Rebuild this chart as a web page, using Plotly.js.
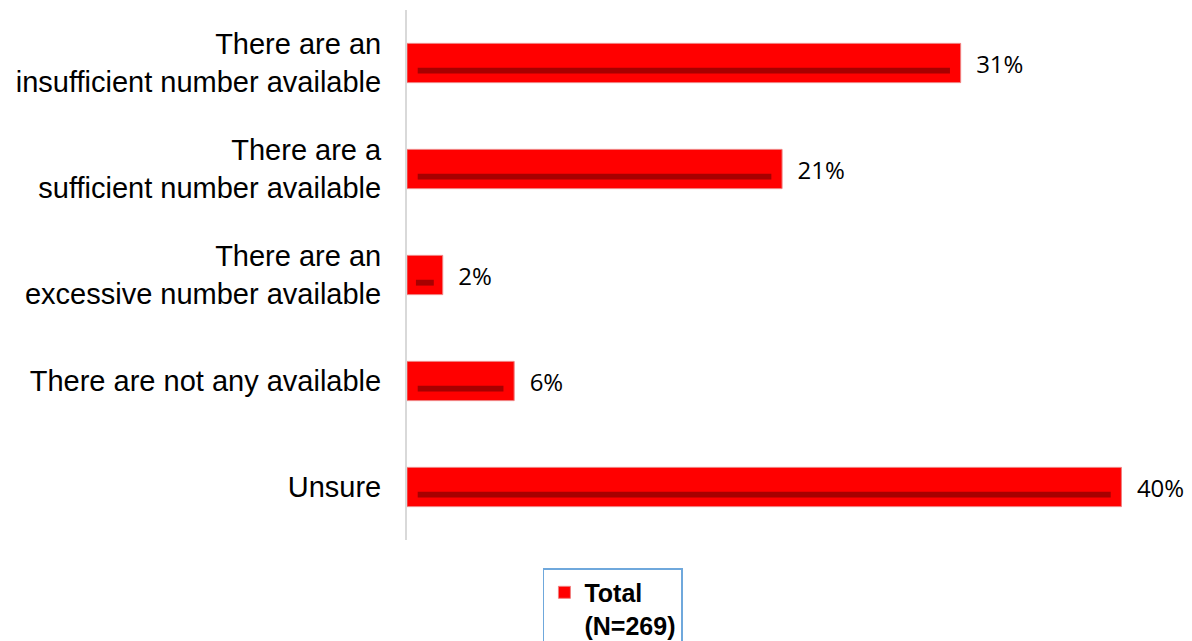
<!DOCTYPE html>
<html>
<head>
<meta charset="utf-8">
<script src="https://cdn.plot.ly/plotly-3.0.1.min.js"></script>
<style>html,body{margin:0;padding:0;background:#fff}#chart{width:1192px;height:641px}</style>
</head>
<body>
<div id="chart"></div>
<script>
const categories = [
  "There are an<br>insufficient number available",
  "There are a<br>sufficient number available",
  "There are an<br>excessive number available",
  "There are not any available",
  "Unsure"
];
const values = [31, 21, 2, 6, 40];
const seriesName = "Total<br>(N=269)";

const inset = 0.6;
const stripeBase = values.map(v => Math.min(inset, v / 4));
const stripeLen = values.map((v, i) => Math.max(v - 2 * stripeBase[i], 0));

const mainBar = {
  type: 'bar',
  orientation: 'h',
  y: categories,
  x: values,
  name: seriesName,
  width: 0.37,
  marker: { color: '#ff0000', line: { color: '#f08080', width: 1 } },
  text: values.map(v => v + '%'),
  texttemplate: '  %{text}',
  textposition: 'outside',
  textfont: { family: 'Open Sans, sans-serif', size: 24, color: '#000' },
  cliponaxis: false,
  hoverinfo: 'x+y'
};
const stripe = {
  type: 'bar',
  orientation: 'h',
  y: categories,
  x: stripeLen,
  base: stripeBase,
  width: 0.055,
  offset: 0.045,
  marker: { color: 'rgba(130,0,0,0.7)', line: { width: 0 } },
  showlegend: false,
  hoverinfo: 'skip'
};

const layout = {
  width: 1192,
  height: 641,
  margin: { l: 407, r: 17, t: 10, b: 101, autoexpand: false },
  paper_bgcolor: '#fff',
  plot_bgcolor: '#fff',
  barmode: 'overlay',
  showlegend: true,
  xaxis: { range: [0, 43], showgrid: false, zeroline: false, showline: false, showticklabels: false, ticks: '' },
  yaxis: {
    type: 'category',
    autorange: 'reversed',
    showgrid: false,
    zeroline: false,
    showline: true,
    linecolor: '#d9d9d9',
    linewidth: 2,
    ticks: '',
    ticklabelstandoff: 18,
    tickfont: { family: 'Liberation Sans, Arial, sans-serif', size: 29, color: '#000' }
  },
  legend: {
    x: 0.177, xanchor: 'left',
    y: -0.053, yanchor: 'top',
    bordercolor: '#6fa8dc', borderwidth: 1.5,
    bgcolor: '#fff',
    valign: 'top',
    font: { family: 'Liberation Sans, Arial, sans-serif', size: 25, color: '#000', weight: 'bold' }
  }
};

Plotly.newPlot('chart', [mainBar, stripe], layout, { displayModeBar: false, staticPlot: true });
</script>
</body>
</html>
